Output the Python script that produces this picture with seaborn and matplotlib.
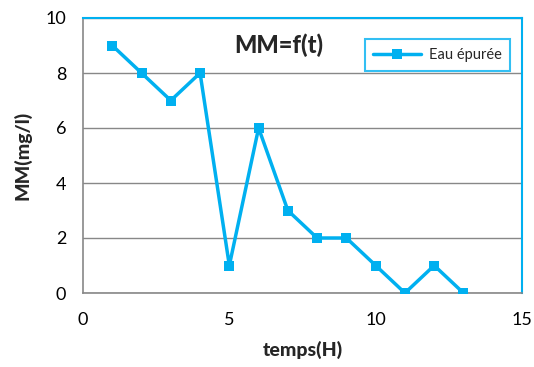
import matplotlib
matplotlib.use("Agg")
import matplotlib.pyplot as plt
import seaborn as sns
import pandas as pd

temps = [1, 2, 3, 4, 5, 6, 7, 8, 9, 10, 11, 12, 13]
mm = [9, 8, 7, 8, 1, 6, 3, 2, 2, 1, 0, 1, 0]
series_name = "Eau épurée"
x_ticks = [0, 5, 10, 15]
y_ticks = [0, 2, 4, 6, 8, 10]

sns.set_style("white")
plt.rcParams['font.family'] = ['Lato', 'DejaVu Sans']

df = pd.DataFrame({"temps": temps, "MM": mm, "serie": series_name})

color = "#00B0F0"
fig = plt.figure(figsize=(5.34, 3.67), dpi=100)
ax = fig.add_axes([83/534, 1 - 293/367, (522-83)/534, (293-18)/367])

sns.lineplot(data=df, x="temps", y="MM", hue="serie", palette=[color],
             marker="s", markersize=7.5, markeredgewidth=0, linewidth=2.5,
             ax=ax, zorder=3)

ax.set_xlim(0, 15)
ax.set_ylim(0, 10)
ax.set_xticks(x_ticks)
ax.set_yticks(y_ticks)
ax.tick_params(axis='both', direction='out', length=5, width=1, colors='#888888',
               labelcolor='black', labelsize=13)
ax.tick_params(axis='x', pad=9)
ax.tick_params(axis='y', pad=7)
ax.grid(axis='y', color='#888888', linewidth=1)
ax.set_axisbelow(True)

for s in ['left', 'bottom']:
    ax.spines[s].set_color('#888888')
    ax.spines[s].set_linewidth(1.2)
for s in ['top', 'right']:
    ax.spines[s].set_color(color)
    ax.spines[s].set_linewidth(1.5)

ax.set_xlabel("temps(H)", fontsize=14, fontweight='black', labelpad=9)
ax.set_ylabel("MM(mg/l)", fontsize=14, fontweight='black', labelpad=10)

ax.text(0.445, 0.9, "MM=f(t)", transform=ax.transAxes, fontsize=17,
        fontweight='black', ha='center', va='center')

leg = ax.legend(loc='upper right', bbox_to_anchor=(0.99, 0.95), frameon=True,
                fontsize=10.5, handlelength=3.3, handletextpad=0.5,
                borderpad=0.6, fancybox=False)
leg.get_frame().set_edgecolor(color)
leg.get_frame().set_linewidth(1.5)

fig.savefig("out.png", dpi=100)
